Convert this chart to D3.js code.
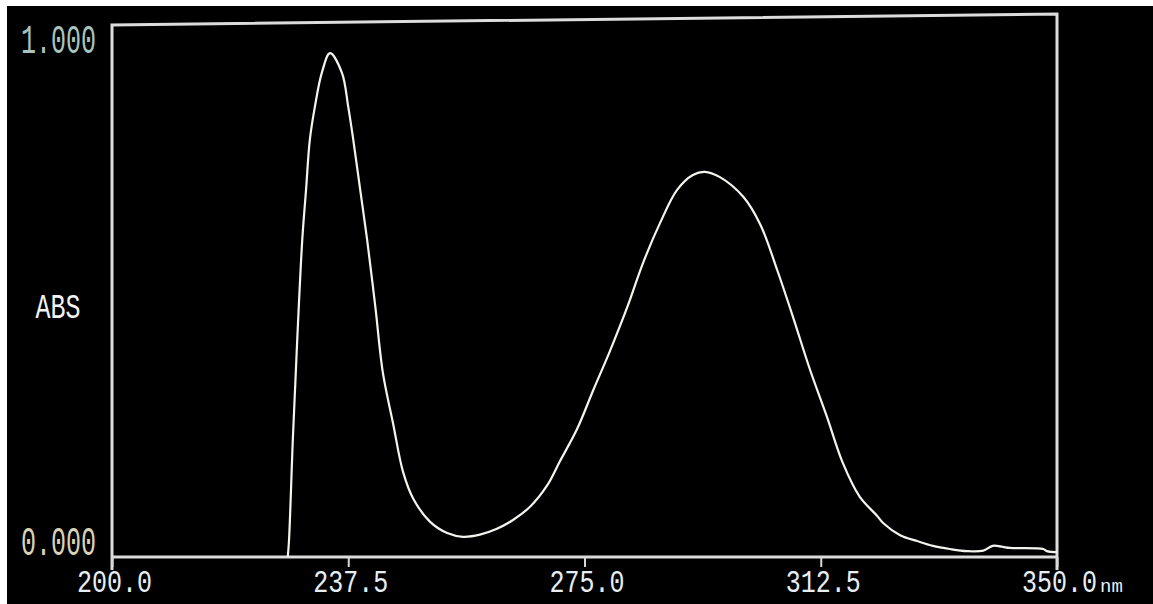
<!DOCTYPE html>
<html lang="en">
<head>
  <meta charset="UTF-8">
  <title>ABS spectrum</title>
  <script src="https://cdnjs.cloudflare.com/ajax/libs/d3/7.8.5/d3.min.js"></script>
  <style>
    html, body { margin: 0; padding: 0; background: #fff; }
    svg { display: block; }
  </style>
</head>
<body>
  <script>
// wavelength (nm) and absorbance
var wavelength = [227.9, 228.1, 228.7, 229.4, 230.2, 230.8, 231.4, 232.2, 233.3, 234.6,
                  236.5, 237.5, 238.3, 239.4, 240.5, 241.8, 243.0, 244.6, 246.2, 247.8,
                  250.5, 253.2, 255.7, 258.4, 261.1, 263.7, 266.4, 269.1, 271.1, 273.8,
                  276.4, 279.1, 281.8, 284.3, 287.0, 289.7, 292.2, 294.1, 296.5, 300.2,
                  302.9, 305.6, 308.1, 310.8, 313.5, 316.0, 318.7, 321.4, 322.4, 325.1,
                  327.8, 330.3, 333.0, 335.7, 338.3, 339.8, 341.4, 342.5, 347.8, 348.4, 350.0];
var absorbance = [0.000, 0.032, 0.220, 0.408, 0.596, 0.690, 0.784, 0.846, 0.910, 0.947,
                  0.910, 0.846, 0.784, 0.690, 0.596, 0.470, 0.346, 0.252, 0.160, 0.110,
                  0.066, 0.045, 0.038, 0.042, 0.053, 0.070, 0.095, 0.135, 0.180, 0.240,
                  0.314, 0.389, 0.470, 0.553, 0.628, 0.690, 0.718, 0.724, 0.714, 0.677,
                  0.625, 0.539, 0.451, 0.352, 0.263, 0.177, 0.113, 0.078, 0.064, 0.041,
                  0.030, 0.021, 0.015, 0.011, 0.012, 0.021, 0.019, 0.017, 0.015, 0.011, 0.009];

var xTicks = [200, 237.5, 275, 312.5, 350];
var yTicks = [0, 1];

var W = 1153, H = 604;
var m = {left: 112, right: 1057, top: 25, bottom: 557};

var svg = d3.select("body").append("svg")
    .attr("width", W)
    .attr("height", H);

// white strip top/left, black screen
svg.append("rect").attr("x", 0).attr("y", 0).attr("width", W).attr("height", H).attr("fill", "#fff");
svg.append("rect").attr("x", 7).attr("y", 6).attr("width", W - 7).attr("height", H - 6).attr("fill", "#000");

var x = d3.scaleLinear().domain([200, 350]).range([m.left, m.right]);
var y = d3.scaleLinear().domain([0, 1]).range([m.bottom, m.top]);

// frame (top edge a bit tilted like the photo)
var frame = svg.append("g").attr("fill", "none").attr("stroke", "#dcdcdc").attr("stroke-width", 3);
frame.append("path").attr("d", "M" + x(200) + "," + 570 + "V" + y(1) + "L" + x(350) + "," + (y(1) - 11) + "V" + 570);
frame.append("line")
    .attr("x1", x(200)).attr("x2", x(350))
    .attr("y1", y(0)).attr("y2", y(0));

// x axis
var xAxis = d3.axisBottom(x)
    .tickValues(xTicks)
    .tickSize(10)
    .tickFormat(d3.format(".1f"));

var gx = svg.append("g")
    .attr("transform", "translate(0," + y(0) + ")")
    .call(xAxis);
gx.select(".domain").remove();
gx.selectAll(".tick line").attr("stroke", "#d8d8d8").attr("stroke-width", 2);
gx.selectAll(".tick text").remove();

gx.selectAll(".tick").append("text")
    .attr("text-anchor", "middle")
    .attr("fill", "#e6eef4")
    .attr("font-family", "Liberation Mono, monospace")
    .attr("font-size", 25)
    .attr("transform", "translate(2,35) scale(1,1.25)")
    .text(function(d) { return d3.format(".1f")(d); });

svg.append("text")
    .attr("x", x(350) + 43)
    .attr("y", 592)
    .attr("fill", "#e6eef4")
    .attr("font-family", "Liberation Mono, monospace")
    .attr("font-size", 19)
    .text("nm");

// y labels
svg.append("g").selectAll("text")
    .data(yTicks)
  .enter().append("text")
    .attr("text-anchor", "end")
    .attr("font-family", "Liberation Mono, monospace")
    .attr("font-size", 25)
    .attr("fill", function(d) { return d === 1 ? "#a9c4bb" : "#d9d2b6"; })
    .attr("transform", function(d) {
      var yy = d === 1 ? y(d) + 28 : y(d) - 2;
      return "translate(96," + yy + ") scale(1,1.6)";
    })
    .text(function(d) { return d3.format(".3f")(d); });

svg.append("text")
    .attr("font-family", "Liberation Mono, monospace")
    .attr("font-size", 25)
    .attr("fill", "#f2f2f2")
    .attr("text-anchor", "middle")
    .attr("transform", "translate(58,318) scale(1,1.4)")
    .text("ABS");

// spectrum
var pts = wavelength.map(function(w, i) { return [w, absorbance[i]]; });
var line = d3.line()
    .x(function(d) { return x(d[0]); })
    .y(function(d) { return y(d[1]); })
    .curve(d3.curveCatmullRom.alpha(0.5));

svg.append("path")
    .datum(pts)
    .attr("d", line)
    .attr("fill", "none")
    .attr("stroke", "#f4f4ee")
    .attr("stroke-width", 2.2);
  </script>
</body>
</html>
